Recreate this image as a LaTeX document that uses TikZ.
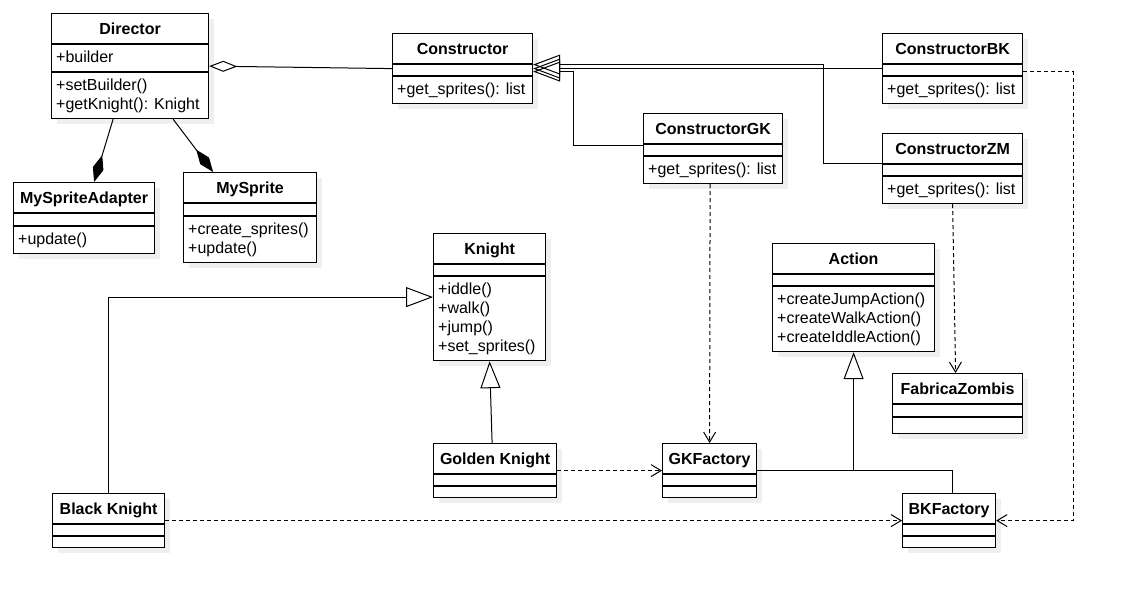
\documentclass[tikz,border=0pt]{standalone}
\usepackage{fontspec}
\setmainfont{Liberation Sans}
\usetikzlibrary{arrows.meta, positioning, shadows, calc}

\tikzset{
  classbox/.style={draw, line width=1.2pt, fill=white, anchor=north west, inner sep=0pt,
    drop shadow={shadow xshift=5pt, shadow yshift=-5pt, opacity=0.12}},
  classline/.style={line width=1.2pt},
  classtitle/.style={font=\bfseries\fontsize{16}{19}\selectfont, text height=11.5pt, text depth=0pt, inner sep=0pt},
  members/.style={anchor=north west, align=left, inner xsep=5pt, inner ysep=6.5pt, font=\fontsize{16}{19}\selectfont},
  inherit/.style={line width=1pt, -{Triangle[open, length=27pt, width=20pt]}},
  depend/.style={line width=1pt, dash pattern=on 4pt off 3pt, -{Straight Barb[length=10pt, width=12pt]}},
  aggr/.style={line width=1pt, -{Diamond[open, length=28pt, width=11pt]}},
  compo/.style={line width=1pt, -{Diamond[length=28pt, width=11pt]}},
}

% name, corner, width, attr height, methods height, title, attributes, methods
\newcommand{\umlclass}[8]{%
  \node[classbox, minimum width=#3pt, minimum height=31pt+#4pt+#5pt] (#1) at #2 {};
  \draw[classline] ([yshift=-31pt]#1.north west) -- ([yshift=-31pt]#1.north east);
  \draw[classline] ([yshift=-31pt-#4pt]#1.north west) -- ([yshift=-31pt-#4pt]#1.north east);
  \node[classtitle] (#1-name) at ([yshift=-15.5pt]#1.north) {#6};
  \node[members] (#1-attr) at ([yshift=-31pt]#1.north west) {#7};
  \node[members] (#1-ops) at ([yshift=-31pt-#4pt]#1.north west) {#8};
}

\begin{document}
\begin{tikzpicture}[x=1pt, y=-1pt]
\fill[white] (0,0) rectangle (1123,597);
\useasboundingbox (0,0) rectangle (1123,597);

% classes
\umlclass{director}{(51,13)}{157}{28}{46}{Director}{+builder}{+setBuilder()\\+getKnight(): Knight}
\umlclass{constructor}{(392,33)}{140}{12}{27}{Constructor}{}{+get\_sprites(): list}
\umlclass{constructorBK}{(882,33)}{140}{12}{27}{ConstructorBK}{}{+get\_sprites(): list}
\umlclass{constructorGK}{(643,113)}{139}{12}{27}{ConstructorGK}{}{+get\_sprites(): list}
\umlclass{constructorZM}{(882,133)}{140}{12}{27}{ConstructorZM}{}{+get\_sprites(): list}
\umlclass{spriteAdapter}{(13,182)}{141}{13}{27}{MySpriteAdapter}{}{+update()}
\umlclass{mySprite}{(183,172)}{133}{13}{46}{MySprite}{}{+create\_sprites()\\+update()}
\umlclass{knight}{(433,233)}{112}{12}{84}{Knight}{}{+iddle()\\+walk()\\+jump()\\+set\_sprites()}
\umlclass{goldenKnight}{(433,443)}{123}{12}{11}{Golden Knight}{}{}
\umlclass{blackKnight}{(52,493)}{112}{12}{11}{Black Knight}{}{}
\umlclass{action}{(772,243)}{162}{12}{65}{Action}{}{+createJumpAction()\\+createWalkAction()\\+createIddleAction()}
\umlclass{fabricaZombis}{(892,373)}{130}{13}{16}{FabricaZombis}{}{}
\umlclass{gkFactory}{(662,443)}{94}{12}{11}{GKFactory}{}{}
\umlclass{bkFactory}{(902,493)}{93}{12}{11}{BKFactory}{}{}

% aggregation and composition
\draw[aggr] (constructor.west) -- (director.east);
\draw[compo] ([xshift=-17pt]director.south) -- ([xshift=10pt]spriteAdapter.north);
\draw[compo] ([xshift=43pt]director.south) -- ([xshift=-37pt]mySprite.north);

% inheritance
\draw[inherit] (constructorBK.west) -- (constructor.east);
\draw[inherit] ([yshift=5pt]constructorZM.west) -- ++(-59,0) |- ([yshift=4pt]constructor.east);
\draw[inherit] ([yshift=3pt]constructorGK.west) -- ++(-70,0) |- ([yshift=-3pt]constructor.east);
\draw[inherit] (blackKnight.north) |- (knight.west);
\draw[inherit] ([xshift=-3pt]goldenKnight.north) -- (knight.south);
\coordinate (actionJoin) at (action.south |- gkFactory.east);
\draw[inherit] (gkFactory.east) -- (actionJoin) -- (action.south);
\draw[line width=1pt] ([xshift=3pt]bkFactory.north) |- (actionJoin);

% dependencies
\draw[depend] (goldenKnight.east) -- (gkFactory.west);
\draw[depend] (blackKnight.east) -- (bkFactory.west);
\draw[depend] ([xshift=-3pt]constructorGK.south) -- (gkFactory.north);
\draw[depend] (constructorZM.south) -- ([xshift=-2pt]fabricaZombis.north);
\draw[depend] ([yshift=-3pt]constructorBK.east) -- ++(50,0) |- (bkFactory.east);
\end{tikzpicture}
\end{document}
